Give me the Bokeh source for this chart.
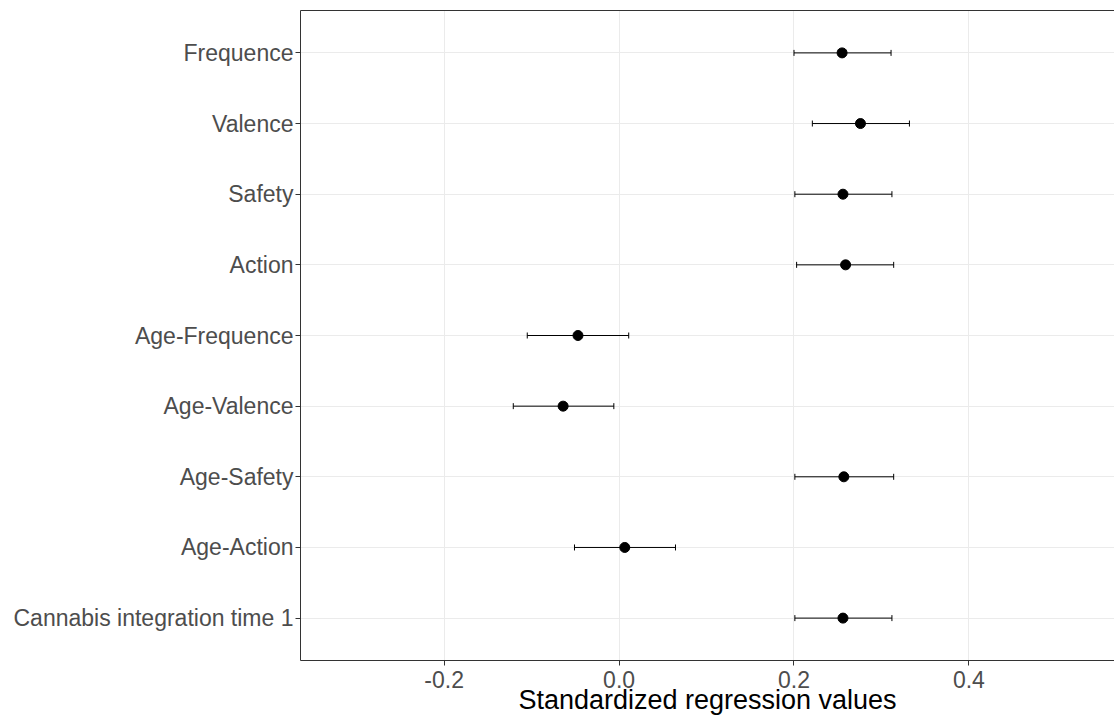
from bokeh.plotting import figure
from bokeh.models import (ColumnDataSource, Whisker, TeeHead, FactorRange, Range1d,
                          FixedTicker, LinearAxis, NumeralTickFormatter)
from bokeh.embed import file_html
from bokeh.resources import INLINE

predictors = ["Frequence", "Valence", "Safety", "Action", "Age-Frequence",
              "Age-Valence", "Age-Safety", "Age-Action", "Cannabis integration time 1"]
estimates = [0.255, 0.276, 0.256, 0.259, -0.047, -0.064, 0.257, 0.0065, 0.256]
lower = [0.200, 0.221, 0.201, 0.203, -0.105, -0.121, 0.201, -0.051, 0.201]
upper = [0.311, 0.332, 0.312, 0.314, 0.011, -0.006, 0.314, 0.0645, 0.312]
x_ticks = [-0.2, 0.0, 0.2, 0.4]
x_title = "Standardized regression values"

FONT = "Liberation Sans"
TICK_COLOR = "#4d4d4d"
LINE_COLOR = "#333333"
GRID_COLOR = "#ebebeb"

src = ColumnDataSource(dict(predictor=predictors, est=estimates, lo=lower, hi=upper))

p = figure(width=1114, height=717,
           y_range=FactorRange(factors=list(reversed(predictors)),
                               range_padding=0.1, range_padding_units="absolute"),
           x_range=Range1d(-0.3643, 0.5665),
           output_backend="svg", toolbar_location=None,
           min_border_left=300, min_border_top=10, min_border_right=0, min_border_bottom=0)

p.outline_line_color = None
p.background_fill_color = "white"
p.border_fill_color = "white"

# grids
p.xgrid.grid_line_color = GRID_COLOR
p.ygrid.grid_line_color = GRID_COLOR
p.xgrid.grid_line_width = 1
p.ygrid.grid_line_width = 1

# x axis
xa = p.xaxis[0]
xa.ticker = FixedTicker(ticks=x_ticks)
xa.formatter = NumeralTickFormatter(format="0.0")
xa.minor_tick_line_color = None
xa.major_tick_out = 5
xa.major_tick_in = 0
xa.major_tick_line_color = LINE_COLOR
xa.axis_line_color = LINE_COLOR
xa.major_label_text_font = FONT
xa.major_label_text_font_size = "23px"
xa.major_label_text_color = TICK_COLOR
xa.major_label_standoff = 5
xa.axis_label = x_title
xa.axis_label_text_font = FONT
xa.axis_label_text_font_size = "27px"
xa.axis_label_text_font_style = "normal"
xa.axis_label_text_color = "black"
xa.axis_label_standoff = -6

# y axis
ya = p.yaxis[0]
ya.major_tick_out = 5
ya.major_tick_in = 0
ya.major_tick_line_color = LINE_COLOR
ya.axis_line_color = LINE_COLOR
ya.major_label_text_font = FONT
ya.major_label_text_font_size = "23px"
ya.major_label_text_color = TICK_COLOR
ya.major_label_standoff = 2

# top border line
top = LinearAxis(ticker=FixedTicker(ticks=[]), major_label_text_font_size="0px",
                 major_tick_out=0, major_tick_in=0, minor_tick_out=0, minor_tick_in=0,
                 major_label_standoff=0, axis_line_color=LINE_COLOR)
p.add_layout(top, "above")

# error bars
w = Whisker(base="predictor", lower="lo", upper="hi", dimension="width", source=src,
            line_color="black", line_width=1,
            lower_head=TeeHead(size=6, line_color="black", line_width=1),
            upper_head=TeeHead(size=6, line_color="black", line_width=1))
p.add_layout(w)

p.scatter(x="est", y="predictor", size=10, color="black", source=src)

open("out.html", "w").write(file_html(p, INLINE))
